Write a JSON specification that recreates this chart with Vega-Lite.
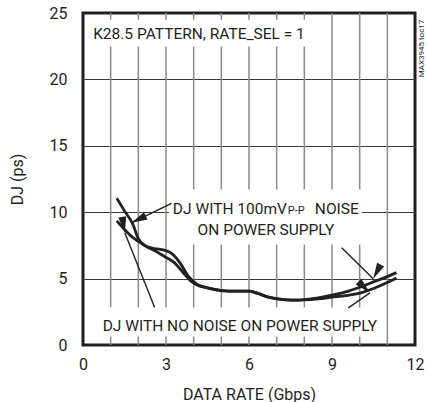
{
  "$schema": "https://vega.github.io/schema/vega-lite/v6.json",
  "width": 332,
  "height": 332,
  "autosize": "none",
  "padding": {"left": 83, "top": 13, "right": 12, "bottom": 57},
  "background": "white",
  "config": {
    "font": "Roboto",
    "view": {"stroke": "#231f20", "strokeWidth": 3},
    "axis": {"labelFont": "Roboto", "titleFont": "Roboto", "labelColor": "#231f20", "titleColor": "#231f20", "titleFontWeight": "normal", "domain": false, "ticks": false}
  },
  "datasets": {
    "vgrid": [
      {"g": 1}, {"g": 2}, {"g": 3}, {"g": 4}, {"g": 5}, {"g": 6},
      {"g": 7}, {"g": 8}, {"g": 9}, {"g": 10}, {"g": 11}
    ],
    "curves": [
      {"series": "noise", "rate": 1.22, "dj": 11.05},
      {"series": "noise", "rate": 1.5, "dj": 10.1},
      {"series": "noise", "rate": 1.8, "dj": 9.1},
      {"series": "noise", "rate": 2.0, "dj": 8.0},
      {"series": "noise", "rate": 2.2, "dj": 7.55},
      {"series": "noise", "rate": 2.5, "dj": 7.3},
      {"series": "noise", "rate": 2.8, "dj": 7.2},
      {"series": "noise", "rate": 3.0, "dj": 7.1},
      {"series": "noise", "rate": 3.2, "dj": 6.9},
      {"series": "noise", "rate": 3.5, "dj": 6.2},
      {"series": "noise", "rate": 3.8, "dj": 5.2},
      {"series": "noise", "rate": 4.1, "dj": 4.6},
      {"series": "noise", "rate": 4.5, "dj": 4.3},
      {"series": "noise", "rate": 5.0, "dj": 4.1},
      {"series": "noise", "rate": 5.5, "dj": 4.05},
      {"series": "noise", "rate": 6.0, "dj": 4.05},
      {"series": "noise", "rate": 6.3, "dj": 3.9},
      {"series": "noise", "rate": 6.7, "dj": 3.6},
      {"series": "noise", "rate": 7.1, "dj": 3.45},
      {"series": "noise", "rate": 7.6, "dj": 3.38},
      {"series": "noise", "rate": 8.0, "dj": 3.42},
      {"series": "noise", "rate": 8.5, "dj": 3.55},
      {"series": "noise", "rate": 9.0, "dj": 3.75},
      {"series": "noise", "rate": 9.5, "dj": 4.0},
      {"series": "noise", "rate": 10.0, "dj": 4.35},
      {"series": "noise", "rate": 10.5, "dj": 4.75},
      {"series": "noise", "rate": 11.0, "dj": 5.15},
      {"series": "noise", "rate": 11.33, "dj": 5.45},
      {"series": "clean", "rate": 1.22, "dj": 9.35},
      {"series": "clean", "rate": 1.5, "dj": 8.7},
      {"series": "clean", "rate": 1.8, "dj": 8.1},
      {"series": "clean", "rate": 2.0, "dj": 7.8},
      {"series": "clean", "rate": 2.3, "dj": 7.4},
      {"series": "clean", "rate": 2.6, "dj": 7.1},
      {"series": "clean", "rate": 3.0, "dj": 6.6},
      {"series": "clean", "rate": 3.3, "dj": 6.2},
      {"series": "clean", "rate": 3.6, "dj": 5.5},
      {"series": "clean", "rate": 3.9, "dj": 4.8},
      {"series": "clean", "rate": 4.2, "dj": 4.45},
      {"series": "clean", "rate": 4.5, "dj": 4.3},
      {"series": "clean", "rate": 5.0, "dj": 4.1},
      {"series": "clean", "rate": 5.5, "dj": 4.05},
      {"series": "clean", "rate": 6.0, "dj": 4.05},
      {"series": "clean", "rate": 6.3, "dj": 3.9},
      {"series": "clean", "rate": 6.7, "dj": 3.6},
      {"series": "clean", "rate": 7.1, "dj": 3.45},
      {"series": "clean", "rate": 7.6, "dj": 3.38},
      {"series": "clean", "rate": 8.0, "dj": 3.4},
      {"series": "clean", "rate": 8.5, "dj": 3.48},
      {"series": "clean", "rate": 9.0, "dj": 3.6},
      {"series": "clean", "rate": 9.5, "dj": 3.72},
      {"series": "clean", "rate": 10.0, "dj": 3.9},
      {"series": "clean", "rate": 10.5, "dj": 4.25},
      {"series": "clean", "rate": 11.0, "dj": 4.7},
      {"series": "clean", "rate": 11.33, "dj": 5.05}
    ],
    "boxes": [
      {"x1": 0.1, "x2": 8.27, "y1": 22.48, "y2": 24.5},
      {"x1": 3.1, "x2": 10.08, "y1": 7.57, "y2": 11.71},
      {"x1": 0.6, "x2": 10.77, "y1": 0.64, "y2": 2.82}
    ],
    "arrows": [
      {"arrow": "a1", "end": "tail", "x": 3.2, "y": 10.66},
      {"arrow": "a1", "end": "tip", "x": 1.75, "y": 9.2},
      {"arrow": "a2", "end": "tail", "x": 9.35, "y": 7.32},
      {"arrow": "a2", "end": "tip", "x": 10.49, "y": 4.98},
      {"arrow": "a3", "end": "tail", "x": 2.59, "y": 2.82},
      {"arrow": "a3", "end": "tip", "x": 1.51, "y": 8.45},
      {"arrow": "a4", "end": "tail", "x": 9.59, "y": 2.8},
      {"arrow": "a4", "end": "tip", "x": 10.37, "y": 3.93}
    ],
    "centered": [
      {"text": "K28.5 PATTERN, RATE_SEL = 1", "x": 4.19, "y": 23.06},
      {"text": "ON POWER SUPPLY", "x": 6.61, "y": 8.32},
      {"text": "DJ WITH NO NOISE ON POWER SUPPLY", "x": 5.67, "y": 1.04}
    ],
    "rightText": [
      {"text": "DJ WITH 100mV", "x": 7.37, "y": 9.83}
    ],
    "leftText": [
      {"text": "NOISE", "x": 8.38, "y": 9.83}
    ],
    "subs": [
      {"text": "P-P", "x": 7.4, "y": 9.83}
    ],
    "notes": [
      {"text": "MAX3945 toc17", "x": 12.24, "y": 22.33}
    ]
  },
  "layer": [
    {
      "data": {"name": "vgrid"},
      "mark": {"type": "rule", "color": "#8a8a8a", "strokeWidth": 1.5},
      "encoding": {
        "x": {"field": "g", "type": "quantitative", "scale": {"domain": [0, 12], "nice": false}, "title": "DATA RATE (Gbps)",
          "axis": {"values": [0, 3, 6, 9, 12], "labelFlush": false, "labelBound": false, "labelFontSize": 16, "labelPadding": 11, "titleFontSize": 16, "titlePadding": 14, "grid": false}}
      }
    },
    {
      "data": {"name": "boxes"},
      "mark": {"type": "rect", "fill": "white"},
      "encoding": {
        "x": {"field": "x1", "type": "quantitative"},
        "x2": {"field": "x2"},
        "y": {"field": "y1", "type": "quantitative", "scale": {"domain": [0, 25], "nice": false}, "title": "DJ (ps)",
          "axis": {"values": [0, 5, 10, 15, 20, 25], "labelFlush": false, "labelBound": false, "labelFontSize": 16, "labelPadding": 16, "titleFontSize": 16, "titlePadding": 24,
            "grid": true, "gridColor": {"condition": {"test": "datum.value === 0 || datum.value === 25", "value": "transparent"}, "value": "#3a3a3a"}, "gridWidth": 1}},
        "y2": {"field": "y2"}
      }
    },
    {
      "data": {"name": "curves"},
      "mark": {"type": "line", "color": "#231f20", "strokeWidth": 2.8, "interpolate": "monotone"},
      "encoding": {
        "x": {"field": "rate", "type": "quantitative"},
        "y": {"field": "dj", "type": "quantitative"},
        "detail": {"field": "series"}
      }
    },
    {
      "data": {"name": "arrows"},
      "mark": {"type": "line", "color": "#231f20", "strokeWidth": 1.4},
      "encoding": {
        "x": {"field": "x", "type": "quantitative"},
        "y": {"field": "y", "type": "quantitative"},
        "detail": {"field": "arrow"}
      }
    },
    {
      "data": {"name": "arrows"},
      "transform": [{"filter": "datum.end === 'tip'"}],
      "mark": {"type": "point", "shape": "M0,0L0.5,2L-0.5,2Z", "filled": true, "color": "#231f20", "size": 256, "opacity": 1},
      "encoding": {
        "x": {"field": "x", "type": "quantitative"},
        "y": {"field": "y", "type": "quantitative"},
        "angle": {"field": "arrow", "type": "nominal", "scale": {"domain": ["a1", "a2", "a3", "a4"], "range": [244, 134.5, 338, 55]}, "legend": null}
      }
    },
    {
      "data": {"name": "centered"},
      "mark": {"type": "text", "align": "center", "baseline": "alphabetic", "fontSize": 15.5, "color": "#231f20", "font": "Roboto"},
      "encoding": {
        "x": {"field": "x", "type": "quantitative"},
        "y": {"field": "y", "type": "quantitative"},
        "text": {"field": "text"}
      }
    },
    {
      "data": {"name": "rightText"},
      "mark": {"type": "text", "align": "right", "baseline": "alphabetic", "fontSize": 15.5, "color": "#231f20", "font": "Roboto"},
      "encoding": {
        "x": {"field": "x", "type": "quantitative"},
        "y": {"field": "y", "type": "quantitative"},
        "text": {"field": "text"}
      }
    },
    {
      "data": {"name": "leftText"},
      "mark": {"type": "text", "align": "left", "baseline": "alphabetic", "fontSize": 15.5, "color": "#231f20", "font": "Roboto"},
      "encoding": {
        "x": {"field": "x", "type": "quantitative"},
        "y": {"field": "y", "type": "quantitative"},
        "text": {"field": "text"}
      }
    },
    {
      "data": {"name": "subs"},
      "mark": {"type": "text", "align": "left", "baseline": "alphabetic", "fontSize": 11, "color": "#231f20", "font": "Roboto"},
      "encoding": {
        "x": {"field": "x", "type": "quantitative"},
        "y": {"field": "y", "type": "quantitative"},
        "text": {"field": "text"}
      }
    },
    {
      "data": {"name": "notes"},
      "mark": {"type": "text", "align": "center", "baseline": "middle", "angle": 270, "fontSize": 8, "color": "#231f20", "font": "Roboto"},
      "encoding": {
        "x": {"field": "x", "type": "quantitative"},
        "y": {"field": "y", "type": "quantitative"},
        "text": {"field": "text"}
      }
    }
  ]
}
